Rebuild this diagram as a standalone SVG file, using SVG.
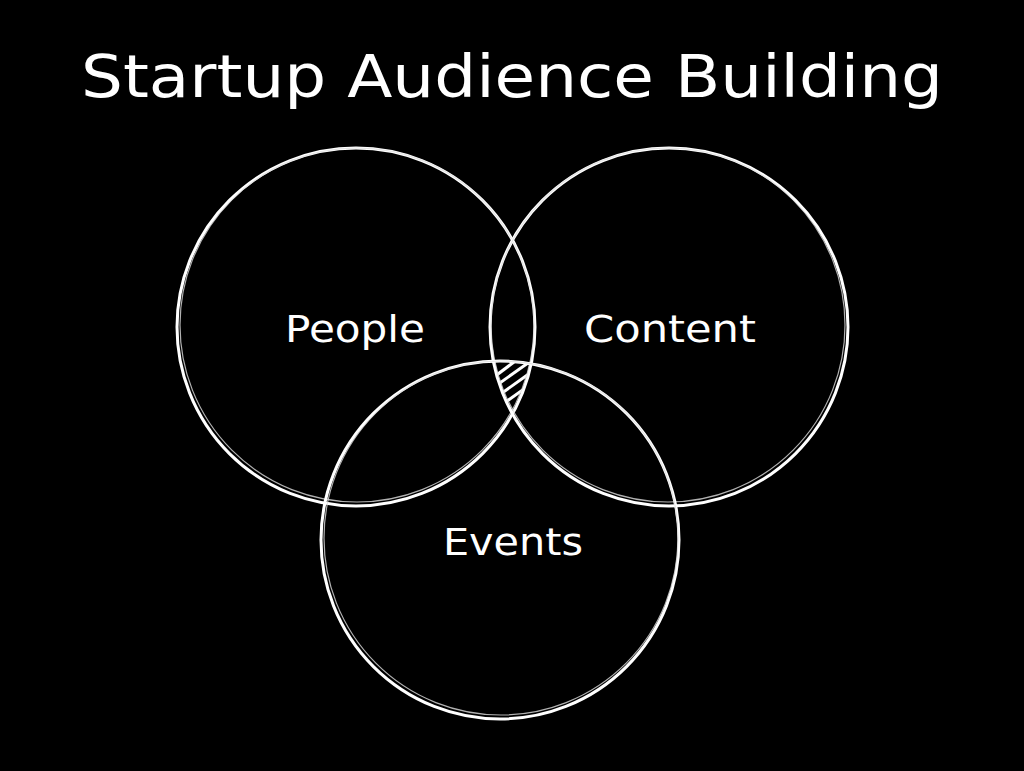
<svg xmlns="http://www.w3.org/2000/svg" width="1024" height="771" viewBox="0 0 1024 771">
<style>
.c1{fill:none;stroke:#fff;stroke-width:3}
.c2{fill:none;stroke:#ddd;stroke-width:1.2;opacity:0.8}
.t{fill:#fff;font-family:"Comic Sans MS","DejaVu Sans",sans-serif}
</style>
<defs>
<clipPath id="cA"><circle cx="356" cy="327" r="179"/></clipPath>
<clipPath id="cB"><circle cx="669" cy="327" r="179"/></clipPath>
<clipPath id="cC"><circle cx="500" cy="540" r="179"/></clipPath>
</defs>
<rect width="1024" height="771" fill="#000"/>
<text class="t" x="512" y="97" font-size="58" text-anchor="middle" textLength="862" lengthAdjust="spacingAndGlyphs">Startup Audience Building</text>
<g id="hatch" clip-path="url(#cA)">
<g clip-path="url(#cB)">
<g clip-path="url(#cC)" stroke="#fff" stroke-width="3">
<line x1="490" y1="380" x2="530" y2="350"/>
<line x1="490" y1="390" x2="535" y2="358"/>
<line x1="495" y1="398" x2="540" y2="366"/>
<line x1="500" y1="406" x2="545" y2="374"/>
</g></g></g>
<g id="people">
<circle class="c1" cx="356" cy="327" r="179"/>
<circle class="c2" cx="357" cy="325" r="177"/>
<text class="t" x="355" y="342" font-size="38" text-anchor="middle" textLength="140" lengthAdjust="spacingAndGlyphs">People</text>
</g>
<g id="content">
<circle class="c1" cx="669" cy="327" r="179"/>
<circle class="c2" cx="668" cy="325" r="177"/>
<text class="t" x="670" y="342" font-size="38" text-anchor="middle" textLength="172" lengthAdjust="spacingAndGlyphs">Content</text>
</g>
<g id="events">
<circle class="c1" cx="500" cy="540" r="179"/>
<circle class="c2" cx="501" cy="538" r="177"/>
<text class="t" x="513" y="555" font-size="38" text-anchor="middle" textLength="140" lengthAdjust="spacingAndGlyphs">Events</text>
</g>
</svg>
